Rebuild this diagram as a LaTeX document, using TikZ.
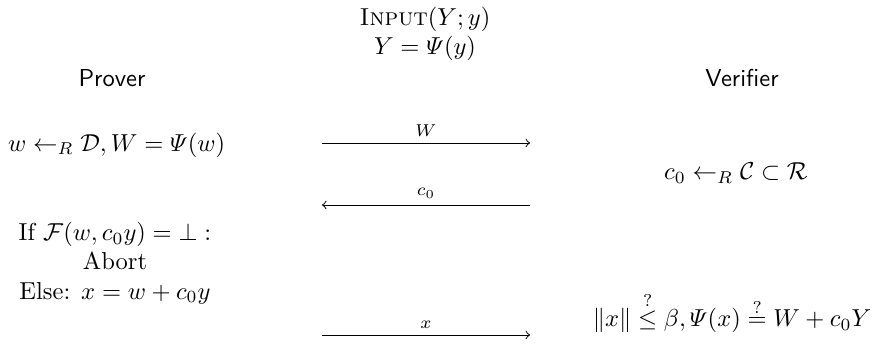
\documentclass[tikz,border=0pt]{standalone}
\usepackage{amsmath,amssymb}
\begin{document}
\begin{tikzpicture}[x=0.408pt,y=-0.408pt,
  lbl/.style={inner sep=0pt, outer sep=0pt},
  msg/.style={->, line width=0.4pt},
  msglbl/.style={lbl, above=2.8pt, font=\scriptsize}]
\useasboundingbox (0,0) rectangle (877,351);
% header
\node[lbl] (in) at (425,19) {\textsc{Input}$(Y;y)$};
\node[lbl] (pub) at (425,48) {$Y=\varPsi(y)$};
\node[lbl,font=\sffamily] (prover) at (112,78) {Prover};
\node[lbl,font=\sffamily] (verifier) at (742,78) {Verifier};
% prover commitment
\node[lbl,anchor=west] (commit) at (8,145) {$w \leftarrow_R \mathcal{D}, W=\varPsi(w)$};
% verifier challenge
\node[lbl] (chal) at (736,173) {$c_0 \leftarrow_R \mathcal{C} \subset \mathcal{R}$};
% prover response
\node[lbl,align=center] (resp) at (115,263) {If $\mathcal{F}(w, c_0y) = \bot :$\\ Abort\\ Else: $x = w + c_0y$};
% verification
\node[lbl,anchor=base] (check) at (732,327) {$\|x\| \overset{?}{\leq} \beta, \varPsi(x) \overset{?}{=} W + c_0Y$};
% messages
\coordinate (a1s) at (322,143); \coordinate (a1e) at (530,143);
\coordinate (a2s) at (530,205); \coordinate (a2e) at (322,205);
\coordinate (a3s) at (322,335); \coordinate (a3e) at (530,335);
\draw[msg] (a1s) -- node[msglbl] {$W$} (a1e);
\draw[msg] (a2s) -- node[msglbl] {$c_0$} (a2e);
\draw[msg] (a3s) -- node[msglbl] {$x$} (a3e);
\end{tikzpicture}
\end{document}
